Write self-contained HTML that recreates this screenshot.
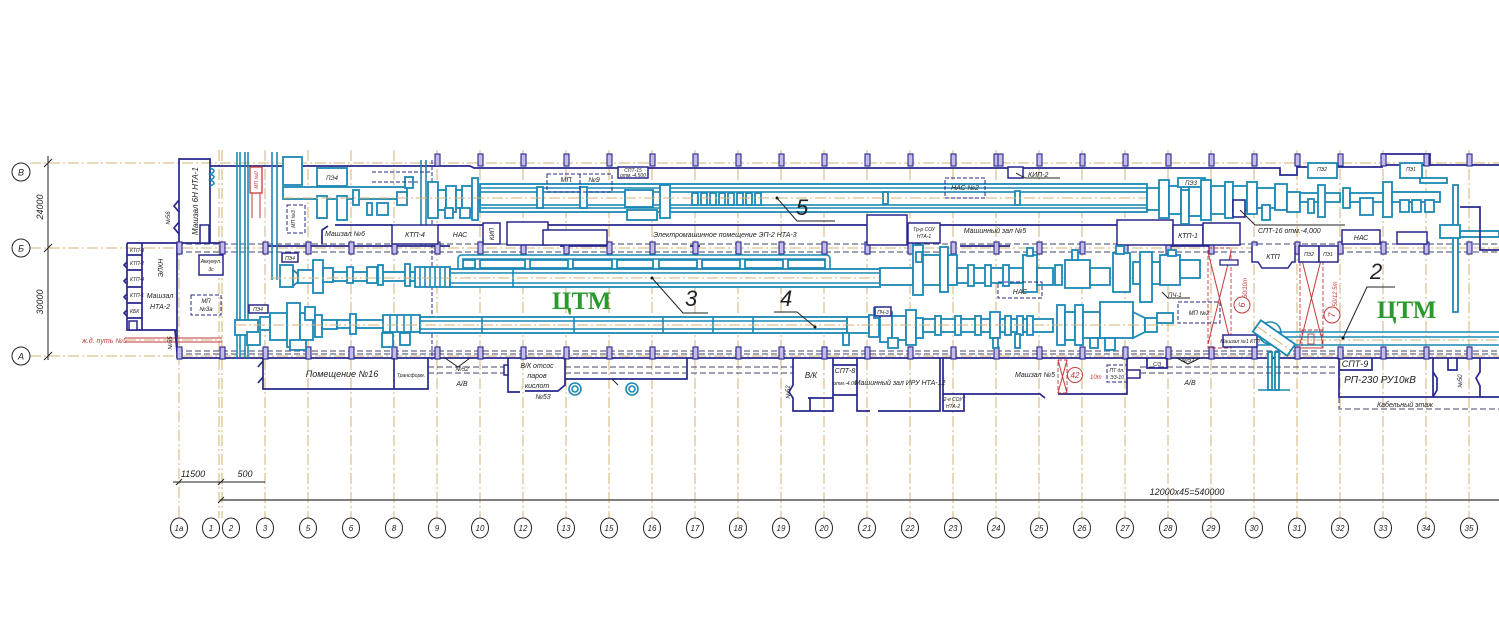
<!DOCTYPE html>
<html><head><meta charset="utf-8"><style>
html,body{margin:0;padding:0;background:#fff;}
svg{display:block;}
.ax{stroke:#d3b274;stroke-width:1;stroke-dasharray:11 3 2 3;fill:none}
.w{stroke:#27278c;stroke-width:1.7;fill:none}
.wf{stroke:#27278c;stroke-width:1.5;fill:#fff}
.d{stroke:#45456e;stroke-width:1;stroke-dasharray:6 3;fill:none}
.dn{stroke:#27278c;stroke-width:1;stroke-dasharray:4 2;fill:none}
.e{stroke:#1b89b4;stroke-width:1.8;fill:#fff}
.en{stroke:#1b89b4;stroke-width:1.6;fill:none}
.c{fill:#c4bbe8;stroke:#27278c;stroke-width:1.1}
.r{stroke:#c23a3a;stroke-width:1;fill:none}
.rd{stroke:#c23a3a;stroke-width:0.9;fill:none;stroke-dasharray:4 2}
.k{stroke:#222;stroke-width:1;fill:none}
text{font-family:"Liberation Sans",sans-serif;font-style:italic;fill:#222}
.t6{font-size:6px}.t7{font-size:7px}.t8{font-size:8px}.t9{font-size:9px}.t5{font-size:5px}
.big{font-size:22px;font-style:italic}
.ctm{font-family:"Liberation Serif",serif;font-weight:bold;font-style:normal;font-size:25px;fill:#2a9a2e}
.red{fill:#c23a3a}
</style></head><body>
<svg width="1499" height="624" viewBox="0 0 1499 624" xmlns="http://www.w3.org/2000/svg">
<rect width="1499" height="624" fill="#fff"/>

<!-- horizontal axes -->
<line class="ax" x1="30" y1="163" x2="1499" y2="163"/>
<line class="ax" x1="30" y1="248" x2="1499" y2="248"/>
<line class="ax" x1="30" y1="356" x2="1499" y2="356"/>

<!-- vertical axes -->
<g class="ax">
<line x1="179" y1="240" x2="179" y2="518"/>
<line x1="219" y1="150" x2="219" y2="518"/>
<line x1="222" y1="150" x2="222" y2="518"/>
<line x1="265" y1="150" x2="265" y2="518"/>
<line x1="308" y1="150" x2="308" y2="518"/>
<line x1="351" y1="150" x2="351" y2="518"/>
<line x1="394" y1="150" x2="394" y2="518"/>
<line x1="437" y1="150" x2="437" y2="518"/>
<line x1="480" y1="150" x2="480" y2="518"/>
<line x1="523" y1="150" x2="523" y2="518"/>
<line x1="566" y1="150" x2="566" y2="518"/>
<line x1="609" y1="150" x2="609" y2="518"/>
<line x1="652" y1="150" x2="652" y2="518"/>
<line x1="695" y1="150" x2="695" y2="518"/>
<line x1="738" y1="150" x2="738" y2="518"/>
<line x1="781" y1="150" x2="781" y2="518"/>
<line x1="824" y1="150" x2="824" y2="518"/>
<line x1="867" y1="150" x2="867" y2="518"/>
<line x1="910" y1="150" x2="910" y2="518"/>
<line x1="953" y1="150" x2="953" y2="518"/>
<line x1="996" y1="150" x2="996" y2="518"/>
<line x1="1039" y1="150" x2="1039" y2="518"/>
<line x1="1082" y1="150" x2="1082" y2="518"/>
<line x1="1125" y1="150" x2="1125" y2="518"/>
<line x1="1168" y1="150" x2="1168" y2="518"/>
<line x1="1211" y1="150" x2="1211" y2="518"/>
<line x1="1254" y1="150" x2="1254" y2="518"/>
<line x1="1297" y1="150" x2="1297" y2="518"/>
<line x1="1340" y1="150" x2="1340" y2="518"/>
<line x1="1383" y1="150" x2="1383" y2="518"/>
<line x1="1426" y1="150" x2="1426" y2="518"/>
<line x1="1469" y1="150" x2="1469" y2="518"/>
</g>

<!-- axis circles left -->
<g class="k" stroke-width="0.9">
<ellipse cx="21" cy="172" rx="9" ry="9"/>
<ellipse cx="21" cy="248" rx="9" ry="9"/>
<ellipse cx="21" cy="356" rx="9" ry="9"/>
</g>
<text class="t9" x="21" y="175.5" text-anchor="middle">В</text>
<text class="t9" x="21" y="251.5" text-anchor="middle">Б</text>
<text class="t9" x="21" y="359.5" text-anchor="middle">А</text>
<line class="k" x1="48" y1="156" x2="48" y2="360"/>
<line class="k" x1="44" y1="167" x2="52" y2="159"/>
<line class="k" x1="44" y1="252" x2="52" y2="244"/>
<line class="k" x1="44" y1="360" x2="52" y2="352"/>
<text class="t9" transform="translate(43,207) rotate(-90)" text-anchor="middle">24000</text>
<text class="t9" transform="translate(43,302) rotate(-90)" text-anchor="middle">30000</text>

<!-- bottom dimension lines -->
<line x1="173" y1="482" x2="265" y2="482" stroke="#222" stroke-width="1"/>
<line class="k" x1="176" y1="485" x2="182" y2="479"/>
<line class="k" x1="218" y1="485" x2="224" y2="479"/>
<text class="t9" x="193" y="477" text-anchor="middle">11500</text>
<text class="t9" x="245" y="477" text-anchor="middle">500</text>
<line x1="220" y1="500" x2="1499" y2="500" stroke="#555" stroke-width="1.4"/>
<line class="k" x1="218" y1="503" x2="224" y2="497"/>
<text class="t9" x="1187" y="495" text-anchor="middle">12000x45=540000</text>

<!-- bottom axis circles -->
<g class="k" stroke-width="0.8">
<ellipse cx="179" cy="528" rx="8.5" ry="10"/><ellipse cx="211" cy="528" rx="8.5" ry="10"/><ellipse cx="231" cy="528" rx="8.5" ry="10"/>
<ellipse cx="265" cy="528" rx="8.5" ry="10"/><ellipse cx="308" cy="528" rx="8.5" ry="10"/><ellipse cx="351" cy="528" rx="8.5" ry="10"/>
<ellipse cx="394" cy="528" rx="8.5" ry="10"/><ellipse cx="437" cy="528" rx="8.5" ry="10"/><ellipse cx="480" cy="528" rx="8.5" ry="10"/>
<ellipse cx="523" cy="528" rx="8.5" ry="10"/><ellipse cx="566" cy="528" rx="8.5" ry="10"/><ellipse cx="609" cy="528" rx="8.5" ry="10"/>
<ellipse cx="652" cy="528" rx="8.5" ry="10"/><ellipse cx="695" cy="528" rx="8.5" ry="10"/><ellipse cx="738" cy="528" rx="8.5" ry="10"/>
<ellipse cx="781" cy="528" rx="8.5" ry="10"/><ellipse cx="824" cy="528" rx="8.5" ry="10"/><ellipse cx="867" cy="528" rx="8.5" ry="10"/>
<ellipse cx="910" cy="528" rx="8.5" ry="10"/><ellipse cx="953" cy="528" rx="8.5" ry="10"/><ellipse cx="996" cy="528" rx="8.5" ry="10"/>
<ellipse cx="1039" cy="528" rx="8.5" ry="10"/><ellipse cx="1082" cy="528" rx="8.5" ry="10"/><ellipse cx="1125" cy="528" rx="8.5" ry="10"/>
<ellipse cx="1168" cy="528" rx="8.5" ry="10"/><ellipse cx="1211" cy="528" rx="8.5" ry="10"/><ellipse cx="1254" cy="528" rx="8.5" ry="10"/>
<ellipse cx="1297" cy="528" rx="8.5" ry="10"/><ellipse cx="1340" cy="528" rx="8.5" ry="10"/><ellipse cx="1383" cy="528" rx="8.5" ry="10"/>
<ellipse cx="1426" cy="528" rx="8.5" ry="10"/><ellipse cx="1469" cy="528" rx="8.5" ry="10"/>
</g>
<g class="t8" text-anchor="middle">
<text x="179" y="531">1а</text><text x="211" y="531">1</text><text x="231" y="531">2</text>
<text x="265" y="531">3</text><text x="308" y="531">5</text><text x="351" y="531">6</text>
<text x="394" y="531">8</text><text x="437" y="531">9</text><text x="480" y="531">10</text>
<text x="523" y="531">12</text><text x="566" y="531">13</text><text x="609" y="531">15</text>
<text x="652" y="531">16</text><text x="695" y="531">17</text><text x="738" y="531">18</text>
<text x="781" y="531">19</text><text x="824" y="531">20</text><text x="867" y="531">21</text>
<text x="910" y="531">22</text><text x="953" y="531">23</text><text x="996" y="531">24</text>
<text x="1039" y="531">25</text><text x="1082" y="531">26</text><text x="1125" y="531">27</text>
<text x="1168" y="531">28</text><text x="1211" y="531">29</text><text x="1254" y="531">30</text>
<text x="1297" y="531">31</text><text x="1340" y="531">32</text><text x="1383" y="531">33</text>
<text x="1426" y="531">34</text><text x="1469" y="531">35</text>
</g>

<!-- ============ WALLS ============ -->
<path class="w" d="M210 166 H470 L474 168 H1280 V175 H1297 V167 H1382 V165 H1499"/>
<path class="w" d="M1382 165 V154 H1430 V165"/>
<line class="d" x1="177" y1="244" x2="1499" y2="244"/>
<line class="d" x1="177" y1="252" x2="1499" y2="252"/>
<path class="w" d="M127 243 H177 M177 243 H222 M268 246 H300 M300 246 H450 M560 246 H607 M690 246 H700 M960 246 H1010 M1170 246 H1210"/>
<line class="d" x1="177" y1="351" x2="1499" y2="351"/>
<line class="d" x1="177" y1="354" x2="1499" y2="354"/>
<line class="w" x1="177" y1="358" x2="1499" y2="358"/>
<line class="w" x1="177" y1="243" x2="177" y2="358"/>

<!-- left annex -->
<path class="w" d="M179 243 V159 H210 V243"/>
<path class="w" d="M179 200 L174 206 L179 212 M179 222 L174 228 L179 234"/>
<path class="en" d="M210 168 q8 3 0 6 q8 3 0 6 q8 3 0 6"/>
<rect class="wf" x="200" y="225" width="9" height="18"/>
<text class="t8" transform="translate(198,201) rotate(-90)" text-anchor="middle">Машзал 6Н НТА-1</text>
<text class="t6" transform="translate(170,218) rotate(-90)" text-anchor="middle">№56</text>
<path class="w" d="M127 243 V330 H177 M142 243 V330"/>
<path class="w" d="M127 255 H142 M127 270 H142 M127 287 H142 M127 303 H142 M127 318 H142"/>
<path class="w" d="M127 262 l-3 3 l3 3 M127 278 l-3 3 l3 3 M127 294 l-3 3 l3 3 M127 310 l-3 3 l3 3"/>
<rect class="wf" x="129" y="321" width="8" height="9"/>
<g class="t5"><text x="130" y="252">КТП-3</text><text x="130" y="265">КТП-2</text><text x="130" y="281">КТП-4</text><text x="130" y="297">КТП-1</text><text x="130" y="313">КБК</text></g>
<text class="t7" transform="translate(163,268) rotate(-90)" text-anchor="middle">ЭЛКН</text>
<text class="t7" x="160" y="298" text-anchor="middle">Машзал</text>
<text class="t7" x="160" y="309" text-anchor="middle">НТА-2</text>
<rect class="wf" x="199" y="255" width="24" height="20"/>
<text class="t5" x="211" y="263" text-anchor="middle">Аккумул.</text>
<text class="t5" x="211" y="271" text-anchor="middle">3с</text>
<rect class="dn" x="191" y="295" width="30" height="20"/>
<text class="t6" x="206" y="303" text-anchor="middle">МП</text>
<text class="t6" x="206" y="311" text-anchor="middle">№3а</text>
<text class="t7 red" x="82" y="343">ж.д. путь №5</text>
<line class="r" x1="125" y1="338" x2="222" y2="338"/>
<line class="r" x1="125" y1="342" x2="222" y2="342"/>
<line class="ax" x1="125" y1="340" x2="222" y2="340"/>
<text class="t6" transform="translate(172,343) rotate(-90)" text-anchor="middle">№55</text>
<line class="w" x1="175" y1="330" x2="177" y2="352"/>

<!-- vertical pipes left -->
<g class="en" stroke-width="1.3">
<line x1="237" y1="152" x2="237" y2="358"/>
<line x1="240" y1="152" x2="240" y2="358"/>
<line x1="245" y1="152" x2="245" y2="358"/>
<line x1="248" y1="152" x2="248" y2="358"/>
<line x1="272" y1="152" x2="272" y2="280"/>
<line x1="277" y1="152" x2="277" y2="280"/>
<line x1="421" y1="160" x2="421" y2="245"/>
<line x1="426" y1="160" x2="426" y2="245"/>
</g>
<line class="dn" x1="432" y1="160" x2="432" y2="360"/>
<rect x="250" y="167" width="12" height="26" fill="#fff" stroke="#c23a3a" stroke-width="1.3"/>
<text class="t5 red" transform="translate(258,180) rotate(-90)" text-anchor="middle">МП №0</text>
<line class="r" x1="252" y1="193" x2="252" y2="218"/>
<line class="r" x1="260" y1="193" x2="260" y2="218"/>

<!-- column stubs -->
<g class="c">
<rect x="435" y="154" width="5" height="12"/><rect x="478" y="154" width="5" height="12"/><rect x="521" y="154" width="5" height="12"/>
<rect x="564" y="154" width="5" height="12"/><rect x="607" y="154" width="5" height="12"/><rect x="650" y="154" width="5" height="12"/>
<rect x="693" y="154" width="5" height="12"/><rect x="736" y="154" width="5" height="12"/><rect x="779" y="154" width="5" height="12"/>
<rect x="822" y="154" width="5" height="12"/><rect x="865" y="154" width="5" height="12"/><rect x="908" y="154" width="5" height="12"/>
<rect x="951" y="154" width="5" height="12"/><rect x="994" y="154" width="5" height="12"/><rect x="998" y="154" width="5" height="12"/><rect x="1037" y="154" width="5" height="12"/>
<rect x="1080" y="154" width="5" height="12"/><rect x="1123" y="154" width="5" height="12"/><rect x="1166" y="154" width="5" height="12"/>
<rect x="1209" y="154" width="5" height="12"/><rect x="1252" y="154" width="5" height="12"/><rect x="1295" y="154" width="5" height="12"/>
<rect x="1338" y="154" width="5" height="12"/><rect x="1381" y="154" width="5" height="12"/><rect x="1424" y="154" width="5" height="12"/>
<rect x="1467" y="154" width="5" height="12"/>
</g>
<g class="c">
<rect x="177" y="242" width="5" height="12"/><rect x="220" y="242" width="5" height="12"/><rect x="263" y="242" width="5" height="12"/>
<rect x="306" y="242" width="5" height="12"/><rect x="349" y="242" width="5" height="12"/><rect x="392" y="242" width="5" height="12"/>
<rect x="435" y="242" width="5" height="12"/><rect x="478" y="242" width="5" height="12"/><rect x="521" y="242" width="5" height="12"/>
<rect x="564" y="242" width="5" height="12"/><rect x="607" y="242" width="5" height="12"/><rect x="650" y="242" width="5" height="12"/>
<rect x="693" y="242" width="5" height="12"/><rect x="736" y="242" width="5" height="12"/><rect x="779" y="242" width="5" height="12"/>
<rect x="822" y="242" width="5" height="12"/><rect x="865" y="242" width="5" height="12"/><rect x="908" y="242" width="5" height="12"/>
<rect x="951" y="242" width="5" height="12"/><rect x="994" y="242" width="5" height="12"/><rect x="1037" y="242" width="5" height="12"/>
<rect x="1080" y="242" width="5" height="12"/><rect x="1123" y="242" width="5" height="12"/><rect x="1166" y="242" width="5" height="12"/>
<rect x="1209" y="242" width="5" height="12"/><rect x="1252" y="242" width="5" height="12"/><rect x="1295" y="242" width="5" height="12"/>
<rect x="1338" y="242" width="5" height="12"/><rect x="1381" y="242" width="5" height="12"/><rect x="1424" y="242" width="5" height="12"/>
<rect x="1467" y="242" width="5" height="12"/>
</g>
<g class="c">
<rect x="177" y="347" width="5" height="12"/><rect x="220" y="347" width="5" height="12"/><rect x="263" y="347" width="5" height="12"/>
<rect x="306" y="347" width="5" height="12"/><rect x="349" y="347" width="5" height="12"/><rect x="392" y="347" width="5" height="12"/>
<rect x="435" y="347" width="5" height="12"/><rect x="478" y="347" width="5" height="12"/><rect x="521" y="347" width="5" height="12"/>
<rect x="564" y="347" width="5" height="12"/><rect x="607" y="347" width="5" height="12"/><rect x="650" y="347" width="5" height="12"/>
<rect x="693" y="347" width="5" height="12"/><rect x="736" y="347" width="5" height="12"/><rect x="779" y="347" width="5" height="12"/>
<rect x="822" y="347" width="5" height="12"/><rect x="865" y="347" width="5" height="12"/><rect x="908" y="347" width="5" height="12"/>
<rect x="951" y="347" width="5" height="12"/><rect x="994" y="347" width="5" height="12"/><rect x="1037" y="347" width="5" height="12"/>
<rect x="1080" y="347" width="5" height="12"/><rect x="1123" y="347" width="5" height="12"/><rect x="1166" y="347" width="5" height="12"/>
<rect x="1209" y="347" width="5" height="12"/><rect x="1252" y="347" width="5" height="12"/><rect x="1295" y="347" width="5" height="12"/>
<rect x="1338" y="347" width="5" height="12"/><rect x="1381" y="347" width="5" height="12"/><rect x="1424" y="347" width="5" height="12"/>
<rect x="1467" y="347" width="5" height="12"/>
</g>

<!-- ============ ROOMS BETWEEN ROW1 AND Б ============ -->
<path class="w" d="M322 244 V230 L328 226 M335 225 H392"/>
<rect class="wf" x="392" y="225" width="46" height="19"/>
<path class="w" d="M438 225 H483"/>
<rect class="wf" x="483" y="223" width="17" height="21"/>
<rect class="wf" x="507" y="222" width="41" height="23"/>
<rect class="wf" x="543" y="230" width="64" height="15"/>
<path class="w" d="M548 225 H867"/>
<rect class="wf" x="867" y="215" width="40" height="30"/>
<rect class="wf" x="908" y="223" width="32" height="20"/>
<path class="w" d="M940 225 H1117"/>
<rect class="wf" x="1117" y="220" width="56" height="25"/>
<rect class="wf" x="1173" y="225" width="30" height="20"/>
<rect class="wf" x="1203" y="223" width="37" height="22"/>
<rect class="wf" x="1342" y="230" width="38" height="14"/>
<rect class="wf" x="1397" y="232" width="30" height="12"/>
<text class="t7" x="345" y="236" text-anchor="middle">Машзал №6</text>
<text class="t7" x="415" y="237" text-anchor="middle">КТП-4</text>
<text class="t7" x="460" y="237" text-anchor="middle">НАС</text>
<text class="t6" transform="translate(494,234) rotate(-90)" text-anchor="middle">КИП</text>
<text class="t7" x="725" y="237" text-anchor="middle">Электромашинное помещение ЭП-2  НТА-3</text>
<text class="t5" x="924" y="231" text-anchor="middle">Тр-р СОУ</text>
<text class="t5" x="924" y="238" text-anchor="middle">НТА-1</text>
<text class="t7" x="995" y="233" text-anchor="middle">Машинный зал №5</text>
<text class="t7" x="1188" y="238" text-anchor="middle">КТП-1</text>
<text class="t7" x="1361" y="240" text-anchor="middle">НАС</text>

<!-- ============ ROW 1 ============ -->
<g class="e">
<rect x="283" y="157" width="19" height="28"/>
<rect x="317" y="168" width="30" height="18"/>
<rect x="283" y="187" width="124" height="12"/>
<rect x="317" y="196" width="10" height="22"/>
<rect x="337" y="196" width="10" height="24"/>
<rect x="353" y="190" width="6" height="15"/>
<rect x="367" y="203" width="5" height="12"/>
<rect x="377" y="203" width="11" height="12"/>
<rect x="397" y="192" width="10" height="13"/>
<rect x="405" y="177" width="8" height="11"/>
<rect x="428" y="182" width="10" height="36"/>
<rect x="438" y="190" width="8" height="20"/>
<rect x="446" y="186" width="10" height="26"/>
<rect x="445" y="208" width="8" height="10"/>
<rect x="456" y="190" width="6" height="18"/>
<rect x="462" y="186" width="10" height="26"/>
<rect x="460" y="208" width="10" height="10"/>
<rect x="472" y="178" width="6" height="42"/>
<rect x="480" y="184" width="667" height="28"/>
</g>
<g class="en" stroke-width="1.3">
<line x1="480" y1="188" x2="1147" y2="188"/>
<line x1="480" y1="208" x2="1147" y2="208"/>
<rect x="480" y="192" width="145" height="13"/>
<rect x="653" y="192" width="494" height="13"/>
</g>
<g class="e">
<rect x="537" y="187" width="6" height="21"/>
<rect x="580" y="187" width="7" height="21"/>
<rect x="625" y="190" width="28" height="17"/>
<rect x="660" y="185" width="10" height="33"/>
<rect x="627" y="210" width="30" height="10"/>
<rect x="692" y="193" width="6" height="12"/><rect x="701" y="193" width="6" height="12"/><rect x="710" y="193" width="6" height="12"/>
<rect x="719" y="193" width="6" height="12"/><rect x="728" y="193" width="6" height="12"/><rect x="737" y="193" width="6" height="12"/>
<rect x="746" y="193" width="6" height="12"/><rect x="755" y="193" width="6" height="12"/>
<rect x="883" y="192" width="5" height="12"/>
<rect x="1015" y="191" width="5" height="14"/>
</g>
<line class="ax" x1="283" y1="198" x2="1440" y2="198"/>
<rect class="dn" x="547" y="174" width="65" height="18"/>
<line class="dn" x1="580" y1="174" x2="580" y2="192"/>
<text class="t7" x="566" y="182" text-anchor="middle">МП</text>
<text class="t7" x="594" y="182" text-anchor="middle">№9</text>
<rect class="wf" x="618" y="167" width="30" height="11"/>
<text class="t5" x="633" y="172" text-anchor="middle">СПТ-15</text>
<text class="t5" x="633" y="177" text-anchor="middle">отм.-4.500</text>
<path class="dn" d="M372 172 H430 M372 182 H420"/>
<rect class="dn" x="287" y="205" width="18" height="28"/>
<text class="t5" transform="translate(295,219) rotate(-90)" text-anchor="middle">МП №3</text>
<text class="t6" x="332" y="180" text-anchor="middle">ПЭ4</text>
<!-- row1 right turbine -->
<g class="e">
<rect x="1147" y="188" width="12" height="22"/>
<rect x="1159" y="180" width="10" height="38"/>
<rect x="1169" y="186" width="12" height="28"/>
<rect x="1181" y="190" width="8" height="34"/>
<rect x="1189" y="184" width="12" height="32"/>
<rect x="1178" y="178" width="27" height="9"/>
<rect x="1201" y="180" width="10" height="40"/>
<rect x="1211" y="186" width="14" height="28"/>
<rect x="1225" y="182" width="8" height="36"/>
<rect x="1233" y="186" width="14" height="24"/>
<rect x="1247" y="182" width="10" height="32"/>
<rect x="1257" y="188" width="18" height="20"/>
<rect x="1262" y="205" width="8" height="15"/>
<rect x="1275" y="184" width="12" height="26"/>
<rect x="1287" y="192" width="13" height="20"/>
<rect x="1300" y="193" width="40" height="9"/>
<rect x="1318" y="185" width="7" height="32"/>
<rect x="1308" y="199" width="6" height="14"/>
<rect x="1343" y="188" width="7" height="20"/>
<rect x="1350" y="193" width="42" height="9"/>
<rect x="1360" y="198" width="13" height="17"/>
<rect x="1383" y="182" width="9" height="35"/>
<rect x="1392" y="192" width="48" height="10"/>
<rect x="1400" y="200" width="9" height="12"/>
<rect x="1412" y="200" width="9" height="12"/>
<rect x="1425" y="200" width="9" height="12"/>
<rect x="1420" y="178" width="27" height="5"/>
<rect x="1308" y="163" width="29" height="15"/>
<rect x="1400" y="163" width="22" height="15"/>
<rect x="1453" y="185" width="5" height="127"/>
<rect x="1440" y="225" width="20" height="13"/>
<rect x="1460" y="231" width="39" height="6"/>
</g>
<rect x="1233" y="200" width="12" height="17" fill="#fff" stroke="#27278c" stroke-width="1.6"/>
<path class="k" d="M1240 210 L1255 225 H1345"/>
<text class="t7" x="1258" y="233">СПТ-16 отм.-4,000</text>
<text class="t5" x="1322" y="171" text-anchor="middle">ПЭ2</text>
<text class="t5" x="1411" y="171" text-anchor="middle">ПЭ1</text>
<text class="t6" x="1191" y="185" text-anchor="middle">ПЭ3</text>
<path class="w" d="M1460 207 H1480 V250 H1499"/>
<rect class="wf" x="1008" y="167" width="15" height="11"/>
<path class="k" d="M1016 173 L1025 178 H1060"/>
<text class="t7" x="1028" y="177">КИП-2</text>
<rect class="dn" x="945" y="178" width="40" height="20"/>
<text class="t7" x="965" y="190" text-anchor="middle">НАС №2</text>
<circle cx="777" cy="198" r="1.5" fill="#111"/>
<path class="k" d="M777 198 L797 221 H835"/>
<text class="big" x="796" y="215">5</text>

<!-- ============ ROW 2 ============ -->
<g class="e">
<rect x="280" y="265" width="13" height="22"/>
<path d="M293 270 L298 274 V282 L293 286 Z"/>
<rect x="298" y="270" width="15" height="13"/>
<rect x="313" y="260" width="10" height="33"/>
<rect x="323" y="268" width="10" height="14"/>
<rect x="333" y="272" width="85" height="9"/>
<rect x="347" y="267" width="6" height="16"/>
<rect x="367" y="267" width="10" height="16"/>
<rect x="378" y="265" width="5" height="20"/>
<rect x="405" y="264" width="5" height="22"/>
<rect x="415" y="267" width="35" height="20"/>
</g>
<g class="en" stroke-width="1.3">
<line x1="420" y1="267" x2="420" y2="287"/><line x1="425" y1="267" x2="425" y2="287"/><line x1="430" y1="267" x2="430" y2="287"/>
<line x1="435" y1="267" x2="435" y2="287"/><line x1="440" y1="267" x2="440" y2="287"/><line x1="445" y1="267" x2="445" y2="287"/>
</g>
<rect class="wf" x="282" y="253" width="16" height="9"/>
<text class="t5" x="290" y="260" text-anchor="middle">ПЭ4</text>
<rect class="e" x="450" y="269" width="430" height="18"/>
<g class="en" stroke-width="1.2">
<line x1="450" y1="273" x2="880" y2="273"/><line x1="450" y1="283" x2="880" y2="283"/>
<line x1="513" y1="269" x2="513" y2="287"/>
<path d="M458 269 V259 Q458 255 462 255 H826 Q830 255 830 259 V269"/>
<line x1="462" y1="259" x2="826" y2="259"/>
</g>
<g class="e" stroke-width="1.3">
<rect x="463" y="260" width="12" height="8"/><rect x="480" y="260" width="45" height="8"/><rect x="530" y="260" width="38" height="8"/>
<rect x="573" y="260" width="39" height="8"/><rect x="617" y="260" width="36" height="8"/><rect x="659" y="260" width="38" height="8"/>
<rect x="702" y="260" width="38" height="8"/><rect x="745" y="260" width="38" height="8"/><rect x="788" y="260" width="37" height="8"/>
</g>
<line class="ax" x1="270" y1="278" x2="1200" y2="278"/>
<g class="e">
<rect x="880" y="268" width="33" height="17"/>
<rect x="913" y="245" width="10" height="50"/>
<rect x="916" y="252" width="6" height="10"/>
<rect x="923" y="255" width="17" height="30"/>
<rect x="940" y="247" width="8" height="45"/>
<rect x="948" y="255" width="9" height="30"/>
<rect x="957" y="268" width="66" height="15"/>
<rect x="968" y="265" width="6" height="21"/><rect x="985" y="265" width="6" height="21"/><rect x="1003" y="265" width="6" height="21"/>
<rect x="1023" y="255" width="14" height="37"/>
<rect x="1027" y="248" width="6" height="8"/>
<rect x="1037" y="268" width="16" height="17"/>
<rect x="1055" y="265" width="7" height="20"/>
<rect x="1065" y="260" width="25" height="28"/>
<rect x="1072" y="250" width="6" height="10"/>
<rect x="1090" y="268" width="20" height="17"/>
<rect x="1113" y="253" width="17" height="39"/>
<rect x="1116" y="246" width="8" height="8"/>
<rect x="1133" y="262" width="27" height="22"/>
<rect x="1140" y="252" width="12" height="50"/>
<rect x="1160" y="255" width="20" height="30"/>
<rect x="1180" y="260" width="20" height="18"/>
<rect x="1168" y="250" width="8" height="6"/>
</g>
<rect class="dn" x="998" y="282" width="44" height="16"/>
<text class="t7" x="1020" y="294" text-anchor="middle">НАС</text>
<path class="k" d="M1162 292 L1168 298 H1190"/>
<text class="t6" x="1168" y="297">ПЧ-1</text>
<rect class="dn" x="1178" y="302" width="42" height="21"/>
<text class="t6" x="1199" y="315" text-anchor="middle">МП №2</text>
<circle cx="652" cy="278" r="1.5" fill="#111"/>
<path class="k" d="M652 278 L683 313 H708"/>
<text class="big" x="685" y="306">3</text>
<text class="ctm" x="552" y="309">ЦТМ</text>

<!-- ============ ROW 3 ============ -->
<g class="e">
<rect x="235" y="320" width="23" height="15"/>
<rect x="247" y="332" width="13" height="13"/>
<rect x="260" y="317" width="10" height="13"/>
<rect x="270" y="313" width="17" height="27"/>
<rect x="287" y="303" width="13" height="44"/>
<rect x="300" y="313" width="13" height="27"/>
<rect x="305" y="307" width="10" height="13"/>
<rect x="315" y="315" width="7" height="22"/>
<rect x="322" y="320" width="15" height="9"/>
<rect x="290" y="340" width="16" height="10"/>
<rect x="337" y="320" width="50" height="8"/>
<rect x="350" y="314" width="6" height="20"/>
<rect x="383" y="315" width="37" height="17"/>
<rect x="382" y="333" width="11" height="14"/>
<rect x="400" y="333" width="10" height="12"/>
<rect x="420" y="317" width="427" height="16"/>
</g>
<g class="en" stroke-width="1.3">
<line x1="390" y1="315" x2="390" y2="332"/><line x1="397" y1="315" x2="397" y2="332"/><line x1="404" y1="315" x2="404" y2="332"/><line x1="411" y1="315" x2="411" y2="332"/>
<line x1="420" y1="321" x2="847" y2="321"/><line x1="420" y1="329" x2="847" y2="329"/>
<line x1="482" y1="317" x2="482" y2="333"/><line x1="574" y1="317" x2="574" y2="333"/><line x1="663" y1="317" x2="663" y2="333"/>
<line x1="713" y1="317" x2="713" y2="333"/><line x1="753" y1="317" x2="753" y2="333"/>
</g>
<rect class="wf" x="249" y="305" width="19" height="8"/>
<text class="t5" x="258" y="311" text-anchor="middle">ПЭ4</text>
<g class="e">
<rect x="847" y="317" width="22" height="16"/>
<rect x="843" y="333" width="6" height="12"/>
<rect x="869" y="315" width="10" height="22"/>
<rect x="874" y="308" width="14" height="10"/>
<rect x="880" y="312" width="12" height="30"/>
<rect x="892" y="316" width="14" height="24"/>
<rect x="888" y="338" width="10" height="10"/>
<rect x="906" y="310" width="10" height="35"/>
<rect x="916" y="318" width="7" height="20"/>
<rect x="923" y="319" width="67" height="13"/>
<rect x="935" y="316" width="6" height="19"/><rect x="955" y="316" width="6" height="19"/><rect x="975" y="316" width="6" height="19"/>
<rect x="990" y="312" width="10" height="26"/>
<rect x="993" y="338" width="5" height="10"/>
<rect x="1000" y="319" width="53" height="13"/>
<rect x="1005" y="316" width="6" height="19"/><rect x="1017" y="316" width="6" height="19"/><rect x="1027" y="316" width="6" height="19"/>
<rect x="1015" y="334" width="5" height="14"/>
<rect x="1057" y="305" width="8" height="40"/>
<rect x="1065" y="312" width="10" height="28"/>
<rect x="1075" y="305" width="8" height="40"/>
<rect x="1083" y="312" width="17" height="26"/>
<rect x="1100" y="302" width="33" height="36"/>
<path d="M1133 312 L1145 318 V332 L1133 338 Z"/>
<rect x="1145" y="318" width="12" height="14"/>
<rect x="1157" y="313" width="16" height="10"/>
<rect x="1105" y="338" width="10" height="12"/>
<rect x="1090" y="338" width="8" height="10"/>
</g>
<line class="ax" x1="235" y1="325" x2="1175" y2="325"/>
<rect class="wf" x="875" y="307" width="16" height="9"/>
<text class="t5" x="883" y="314" text-anchor="middle">ПЧ-3</text>
<circle cx="815" cy="327" r="1.5" fill="#111"/>
<path class="k" d="M815 327 L797 312 H774"/>
<text class="big" x="780" y="306">4</text>

<!-- ============ RIGHT SIDE ============ -->
<rect class="rd" x="1208" y="248" width="23" height="100"/>
<line class="r" x1="1208" y1="252" x2="1231" y2="344"/>
<line class="r" x1="1231" y1="252" x2="1208" y2="344"/>
<rect class="rd" x="1300" y="248" width="23" height="100"/>
<line class="r" x1="1300" y1="252" x2="1323" y2="344"/>
<line class="r" x1="1323" y1="252" x2="1300" y2="344"/>
<circle class="r" cx="1242" cy="305" r="8" stroke-width="1.3"/>
<text class="t9 red" x="1242" y="308" text-anchor="middle" transform="rotate(-90 1242 305)">6</text>
<text class="t6 red" transform="translate(1247,288) rotate(-90)" text-anchor="middle">50/10т</text>
<circle class="r" cx="1332" cy="315" r="8" stroke-width="1.3"/>
<text class="t9 red" x="1332" y="318" text-anchor="middle" transform="rotate(-90 1332 315)">7</text>
<text class="t6 red" transform="translate(1337,294) rotate(-90)" text-anchor="middle">50/12.5т</text>
<path class="wf" d="M1252 246 V262 H1258 L1262 268 H1288 L1292 262 H1295 V246"/>
<text class="t7" x="1273" y="259" text-anchor="middle">КТП</text>
<rect class="wf" x="1299" y="246" width="20" height="16"/>
<rect class="wf" x="1319" y="246" width="19" height="16"/>
<text class="t5" x="1309" y="256" text-anchor="middle">ПЭ2</text>
<text class="t5" x="1328" y="256" text-anchor="middle">ПЭ1</text>
<rect x="1220" y="260" width="18" height="5" fill="#fff" stroke="#27278c" stroke-width="1.3"/>
<rect class="wf" x="1223" y="335" width="34" height="12"/>
<text class="t5" x="1240" y="343" text-anchor="middle">Машзал №1 КТП</text>
<g class="en" stroke-width="1.4">
<line x1="1258" y1="332" x2="1499" y2="332"/>
<line x1="1258" y1="337" x2="1499" y2="337"/>
<line x1="1258" y1="345" x2="1499" y2="345"/>
</g>
<line class="ax" x1="1258" y1="340" x2="1499" y2="340"/>
<circle class="en" cx="1270" cy="333" r="11"/>
<rect class="e" x="1253" y="331" width="42" height="14" transform="rotate(35 1274 338)"/>
<line class="ax" x1="1258" y1="327" x2="1290" y2="350"/>
<rect class="rd" x="1302" y="330" width="20" height="18"/>
<rect x="1308" y="334" width="6" height="10" fill="none" stroke="#c23a3a" stroke-width="0.9"/>
<circle cx="1343" cy="338" r="1.5" fill="#111"/>
<path class="k" d="M1343 338 L1367 287 H1395"/>
<text class="big" x="1370" y="279">2</text>
<text class="ctm" x="1377" y="318">ЦТМ</text>
<g class="e">
<rect x="1268" y="352" width="4" height="38"/>
<rect x="1275" y="352" width="4" height="38"/>
</g>
<line class="en" x1="1258" y1="390" x2="1290" y2="390" stroke-width="1.6"/>

<!-- ============ BELOW ROW А ============ -->
<path class="w" d="M263 358 V389 H428 V358 M394 358 V389"/>
<path class="w" d="M263 361 L258 367 M263 377 L258 383" />
<text class="t9" x="342" y="377" text-anchor="middle">Помещение №16</text>
<text class="t5" x="411" y="377" text-anchor="middle">Трансформ.</text>
<line class="d" x1="428" y1="367" x2="508" y2="367"/>
<line class="d" x1="428" y1="373" x2="508" y2="373"/>
<path class="k" d="M445 358 L458 367 M470 358 L458 367"/>
<text class="t6" x="462" y="371" text-anchor="middle">№52</text>
<text class="t7" x="462" y="386" text-anchor="middle">А/В</text>
<path class="w" d="M508 358 V392 H520 M525 391 H558 L565 385 V358"/>
<rect class="wf" x="504" y="365" width="4" height="10"/>
<text class="t7" x="537" y="368" text-anchor="middle">В/К отсос</text>
<text class="t7" x="537" y="378" text-anchor="middle">паров</text>
<text class="t7" x="537" y="388" text-anchor="middle">кислот</text>
<text class="t7" x="543" y="399" text-anchor="middle">№53</text>
<path class="w" d="M565 379 H687 V358"/>
<line class="d" x1="565" y1="367" x2="793" y2="367"/>
<line class="d" x1="565" y1="373" x2="793" y2="373"/>
<path class="k" d="M612 379 L618 385"/>
<circle class="en" cx="575" cy="389" r="6"/><circle class="en" cx="575" cy="389" r="3"/>
<circle class="en" cx="632" cy="389" r="6"/><circle class="en" cx="632" cy="389" r="3"/>
<path class="w" d="M793 358 V385 L789 392 L793 398 V411 H833 V358"/>
<path class="w" d="M808 398 H833 M810 398 V411"/>
<text class="t8" x="811" y="378" text-anchor="middle">В/К</text>
<text class="t6" transform="translate(790,392) rotate(-90)" text-anchor="middle">№52</text>
<path class="w" d="M833 365 H857 M833 395 H857 M857 358 V411 H870 M878 411 H940 V358 M943 358 V411 H964 V394"/>
<text class="t7" x="845" y="373" text-anchor="middle">СПТ-8</text>
<text class="t5" x="845" y="385" text-anchor="middle">отм.-4.00</text>
<text class="t7" x="900" y="385" text-anchor="middle">Машинный зал ИРУ НТА-12</text>
<text class="t5" x="953" y="401" text-anchor="middle">2-я СОУ</text>
<text class="t5" x="953" y="408" text-anchor="middle">НТА-2</text>
<path class="w" d="M943 394 H1040 L1045 398 M1058 394 H1127 V358"/>
<text class="t7" x="1035" y="377" text-anchor="middle">Машзал №5</text>
<rect class="rd" x="1058" y="360" width="9" height="33"/>
<line class="r" x1="1058" y1="360" x2="1067" y2="393"/>
<line class="r" x1="1067" y1="360" x2="1058" y2="393"/>
<circle class="r" cx="1075" cy="375" r="7.5" stroke-width="1.4"/>
<text class="t8 red" x="1075" y="378" text-anchor="middle">42</text>
<text class="t6 red" x="1090" y="379">10т</text>
<rect class="dn" x="1107" y="365" width="20" height="17"/>
<text class="t5" x="1117" y="372" text-anchor="middle">ПТ дл.</text>
<text class="t5" x="1117" y="379" text-anchor="middle">ЭЗ-10</text>
<rect class="wf" x="1127" y="370" width="13" height="8"/>
<line class="d" x1="1140" y1="367" x2="1339" y2="367"/>
<line class="d" x1="1140" y1="373" x2="1339" y2="373"/>
<path class="w" d="M1147 358 V368 H1167 V358"/>
<text class="t5" x="1157" y="366" text-anchor="middle">С/З</text>
<path class="k" d="M1177 358 L1188 364 L1200 358"/>
<text class="t6" x="1188" y="362" text-anchor="middle">№51</text>
<text class="t7" x="1190" y="385" text-anchor="middle">А/В</text>
<path class="w" d="M1339 358 V397 H1433 V358 M1339 370 H1372 V358 M1433 397 H1499"/>
<path class="w" d="M1433 372 L1437 378 V390 L1433 397"/>
<path class="w" d="M1448 358 V370 H1457 V358"/>
<text class="t9" x="1355" y="367" text-anchor="middle">СПТ-9</text>
<text style="font-size:10px" x="1380" y="383" text-anchor="middle">РП-230 РУ10кВ</text>
<path class="d" d="M1339 397 V409 H1499"/>
<text class="t7" x="1405" y="407" text-anchor="middle">Кабельный этаж</text>
<text class="t6" transform="translate(1462,381) rotate(-90)" text-anchor="middle">№50</text>
<path class="w" d="M1480 358 V372 L1476 378 L1480 386 V397"/>
</svg>
</body></html>
